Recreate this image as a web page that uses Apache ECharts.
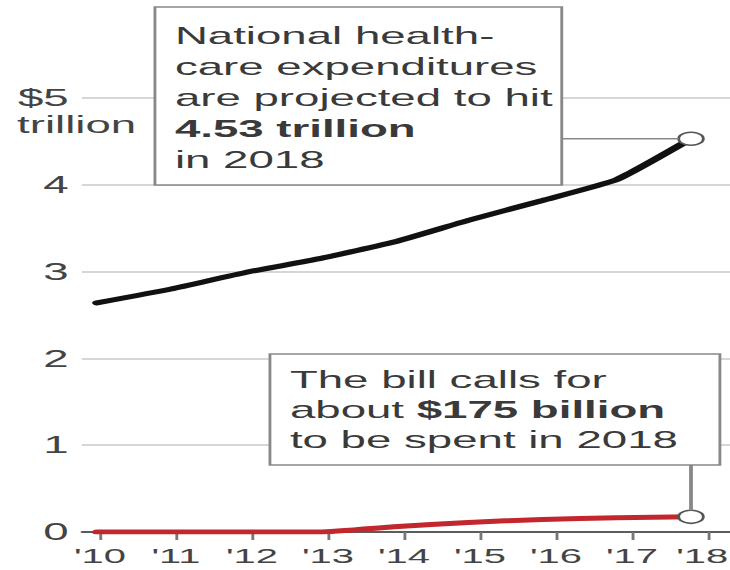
<!DOCTYPE html>
<html>
<head>
<meta charset="utf-8">
<script src="https://cdn.jsdelivr.net/npm/echarts@6/dist/echarts.min.js"></script>
<style>
  html, body { margin: 0; padding: 0; background: #fff; overflow: hidden; }
  #wrap { width: 730px; height: 570px; overflow: hidden; }
  /* the chart is laid out narrow and then widened horizontally */
  #chart { width: 384px; height: 570px; transform: scaleX(1.901); transform-origin: 0 0; }
</style>
</head>
<body>
<div id="wrap"><div id="chart"></div></div>
<script>
// Years on the horizontal axis
const years = [2010, 2011, 2012, 2013, 2014, 2015, 2016, 2017, 2018];
// National health-care expenditures, $ trillion
const nationalSpending = [2.64, 2.80, 2.99, 3.15, 3.34, 3.59, 3.82, 4.06, 4.53];
// Spending called for by the bill, $ trillion
const billSpending = [0, 0, 0, 0, 0.06, 0.11, 0.145, 0.165, 0.175];
// Axis ticks
const xTickYears = [2010, 2011, 2012, 2013, 2014, 2015, 2016, 2017, 2018];
const yTicks = [0, 1, 2, 3, 4, 5];

const FONT = 'Liberation Sans, Arial, sans-serif';
const chart = echarts.init(document.getElementById('chart'), null, { renderer: 'svg' });

const pairs = (vals) => years.map((y, i) => [y, vals[i]]);
const lastIdx = years.length - 1;
const lastTick = xTickYears[xTickYears.length - 1];

chart.setOption({
  animation: false,
  backgroundColor: '#fff',
  grid: { left: 43.1, right: 0, top: 98, bottom: 38, outerBoundsMode: 'none', containLabel: false },
  xAxis: [
    {
      type: 'value', min: 2009.763, max: 2018.29,
      axisLine: { show: true, onZero: false, lineStyle: { color: '#333', width: 1.5 } },
      axisTick: { show: true, customValues: xTickYears, length: 8, lineStyle: { color: '#777', width: 1.5 } },
      axisLabel: {
        customValues: xTickYears, margin: 13, fontSize: 21, color: '#444', fontFamily: FONT,
        hideOverlap: false, showMaxLabel: true, showMinLabel: true,
        // the last label is nudged left so it stays inside the chart
        formatter: (v) => {
          const s = "'" + String(v).slice(2);
          return v === lastTick ? '{e|' + s + '}' : s;
        },
        rich: { e: { fontSize: 21, color: '#444', fontFamily: FONT, padding: [0, 6, 0, 0] } }
      },
      splitLine: { show: false }
    },
    { type: 'value', min: 2009.798, max: 2018.525, show: false }
  ],
  yAxis: {
    type: 'value', min: yTicks[0], max: yTicks[yTicks.length - 1], interval: 1,
    axisLine: { show: false }, axisTick: { show: false },
    axisLabel: {
      margin: 7, fontSize: 24, color: '#444', fontFamily: FONT,
      formatter: (v) => (v === 5 ? '$5' : String(v))
    },
    splitLine: { lineStyle: { color: '#c8c8c8', width: 1.5 } }
  },
  series: [
    {
      name: 'National', type: 'line', xAxisIndex: 1, data: pairs(nationalSpending),
      showSymbol: false, smooth: 0.15, z: 3,
      lineStyle: { color: '#111', width: 5, cap: 'round' }
    },
    {
      name: 'Bill', type: 'line', xAxisIndex: 1, data: pairs(billSpending),
      showSymbol: false, smooth: 0.15, z: 3,
      lineStyle: { color: '#c1272d', width: 5, cap: 'round' }
    },
    {
      name: 'Ends', type: 'scatter', xAxisIndex: 1, z: 6,
      data: [[years[lastIdx], nationalSpending[lastIdx]], [years[lastIdx], billSpending[lastIdx]]],
      symbol: 'circle', symbolSize: 13,
      itemStyle: { color: '#fff', borderColor: '#555', borderWidth: 1.5, opacity: 1 }
    }
  ]
});

// Callout boxes and their leader lines
const pNat = chart.convertToPixel({ xAxisIndex: 1, yAxisIndex: 0 }, [years[lastIdx], nationalSpending[lastIdx]]);
const pBill = chart.convertToPixel({ xAxisIndex: 1, yAxisIndex: 0 }, [years[lastIdx], billSpending[lastIdx]]);
const r = 6.5;
const box1 = { x: 81.5, y: 7, width: 214, height: 178 };
const box2 = { x: 142, y: 354, width: 236.7, height: 111 };
const textBase = { fontSize: 24, fontFamily: FONT, fill: '#3a3a3a' };

chart.setOption({
  graphic: [
    { type: 'line', z: 10, shape: { x1: box1.x + box1.width, y1: pNat[1], x2: pNat[0] - r, y2: pNat[1] },
      style: { stroke: '#888', lineWidth: 1.5 } },
    { type: 'line', z: 10, shape: { x1: pBill[0], y1: box2.y + box2.height, x2: pBill[0], y2: pBill[1] - r },
      style: { stroke: '#888', lineWidth: 2 } },
    { type: 'rect', z: 10, shape: box1, style: { fill: '#fff', stroke: '#888', lineWidth: 1.5 } },
    { type: 'rect', z: 10, shape: box2, style: { fill: '#fff', stroke: '#888', lineWidth: 1.5 } },
    {
      type: 'text', z: 11, x: 92, y: 20,
      style: Object.assign({}, textBase, {
        text: '{n|National health-}\n{n|care expenditures}\n{n|are projected to hit}\n{b|4.53 trillion}\n{n|in 2018}',
        lineHeight: 31, verticalAlign: 'top',
        rich: {
          n: { fontSize: 24, fontFamily: FONT, color: '#3a3a3a', lineHeight: 31 },
          b: { fontSize: 24, fontFamily: FONT, color: '#111', fontWeight: 'bold', lineHeight: 31 }
        }
      })
    },
    {
      type: 'text', z: 11, x: 152.5, y: 365,
      style: Object.assign({}, textBase, {
        text: '{n|The bill calls for}\n{n|about }{b|$175 billion}\n{n|to be spent in 2018}',
        lineHeight: 30, verticalAlign: 'top',
        rich: {
          n: { fontSize: 24, fontFamily: FONT, color: '#3a3a3a', lineHeight: 30 },
          b: { fontSize: 24, fontFamily: FONT, color: '#111', fontWeight: 'bold', lineHeight: 30 }
        }
      })
    },
    {
      type: 'text', z: 11, x: 9, y: 125,
      style: { text: 'trillion', fontSize: 24, fontFamily: FONT, fill: '#444', verticalAlign: 'middle' }
    }
  ]
});
</script>
</body>
</html>
